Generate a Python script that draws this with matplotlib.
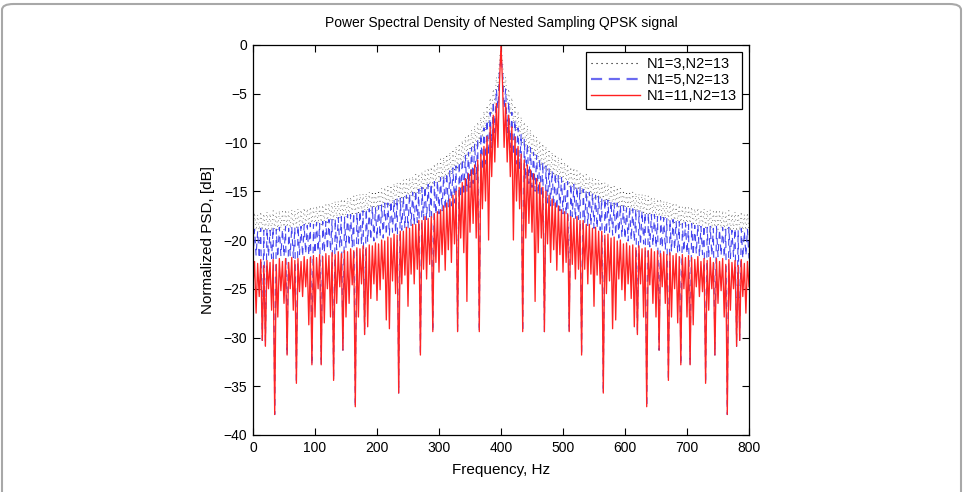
import numpy as np
import matplotlib
matplotlib.use("Agg")
import matplotlib.pyplot as plt
from matplotlib.patches import FancyBboxPatch
from matplotlib.lines import Line2D

plt.rcParams['font.family'] = ['Liberation Sans', 'DejaVu Sans']
plt.rcParams['font.size'] = 10

# ---------------- data ----------------
# frequency grid, 2.5 Hz steps: even samples = troughs, odd samples = crests
freq = np.arange(0, 800.0 + 1e-9, 2.5)

# N1=11,N2=13 (red)
red_dip_left = [
    -24.8, -27.5, -25.8, -30.3, -30.9, -25.0, -27.2, -37.9, -27.9, -25.2,
    -26.5, -31.8, -25.0, -27.2, -34.7, -25.3, -25.8, -24.8, -28.7, -32.8,
    -27.9, -25.0, -32.8, -28.5, -25.0, -27.9, -34.4, -26.5, -24.8, -31.3,
    -27.9, -26.5, -24.6, -37.1, -27.9, -24.5, -29.7, -28.9, -26.0, -24.5,
    -26.2, -25.1, -24.0, -28.2, -29.1, -24.2, -25.5, -35.7, -24.5, -23.6,
    -26.8, -23.5, -24.5, -23.0, -31.8, -23.0, -24.0, -22.5, -29.4, -22.3,
    -23.3, -21.5, -23.1, -21.0, -22.3, -20.4, -29.4, -19.8, -21.3, -26.3,
    -19.2, -18.3, -19.8, -29.4, -16.8, -16.0, -20.0, -13.5, -12.0, -10.5]
red_center = 0.0
red_dip_right = [
    -10.5, -12.0, -13.5, -20.0, -16.0, -16.8, -29.4, -19.8, -18.3, -19.2,
    -26.3, -21.3, -19.8, -29.4, -20.4, -22.3, -21.0, -23.1, -21.5, -23.3,
    -22.3, -29.4, -22.5, -24.0, -23.0, -31.8, -23.0, -24.5, -23.5, -26.8,
    -23.6, -24.5, -35.7, -25.5, -24.2, -29.1, -28.2, -24.0, -25.1, -26.2,
    -24.5, -26.0, -28.9, -29.7, -24.5, -27.9, -37.1, -24.6, -26.5, -27.9,
    -31.3, -24.8, -26.5, -34.4, -27.9, -25.0, -28.5, -32.8, -25.0, -27.9,
    -32.8, -28.7, -24.8, -25.8, -25.3, -34.7, -27.2, -25.0, -31.8, -26.5,
    -25.2, -27.9, -37.9, -27.2, -25.0, -30.9, -30.3, -25.8, -27.5, -24.8]
red_peak_left = [
    -22.2, -22.4, -22.0, -22.6, -22.1, -22.3, -22.0, -22.5, -21.9, -22.2,
    -21.9, -22.3, -21.8, -22.1, -21.9, -22.2, -21.7, -22.0, -21.8, -21.6,
    -21.8, -21.5, -21.7, -21.4, -21.6, -21.3, -21.5, -21.2, -21.4, -21.1,
    -21.2, -20.9, -21.1, -20.8, -20.9, -20.6, -20.8, -20.5, -20.6, -20.3,
    -20.4, -20.0, -20.1, -19.7, -19.8, -19.4, -19.5, -19.1, -19.1, -18.7,
    -18.8, -18.4, -18.4, -18.0, -18.0, -17.6, -17.8, -17.6, -17.3, -17.1,
    -16.9, -16.5, -16.2, -15.8, -15.4, -15.0, -14.6, -14.1, -13.7, -13.2,
    -12.8, -12.3, -11.8, -11.2, -10.4, -9.4, -8.4, -7.2, -6.0, -4.0]
red_peak_right = [
    -4.0, -6.0, -7.2, -8.4, -9.4, -10.4, -11.2, -11.8, -12.3, -12.8,
    -13.2, -13.7, -14.1, -14.6, -15.0, -15.4, -15.8, -16.2, -16.5, -16.9,
    -17.1, -17.3, -17.6, -17.8, -17.6, -18.0, -18.0, -18.4, -18.4, -18.8,
    -18.7, -19.1, -19.1, -19.5, -19.4, -19.8, -19.7, -20.1, -20.0, -20.4,
    -20.3, -20.6, -20.5, -20.8, -20.6, -20.9, -20.8, -21.1, -20.9, -21.2,
    -21.1, -21.4, -21.2, -21.5, -21.3, -21.6, -21.4, -21.7, -21.5, -21.8,
    -21.6, -21.8, -22.0, -21.7, -22.2, -21.9, -22.1, -21.8, -22.3, -21.9,
    -22.2, -21.9, -22.5, -22.0, -22.3, -22.1, -22.6, -22.0, -22.4, -22.2]

# N1=5,N2=13 (blue)
blue_dip_left = [
    -21.9, -21.6, -21.9, -30.3, -30.9, -21.7, -21.9, -37.9, -21.8, -21.6,
    -21.7, -31.8, -21.6, -21.8, -34.7, -21.5, -21.7, -21.4, -21.6, -32.8,
    -21.4, -21.2, -32.8, -21.3, -21.0, -21.2, -34.4, -21.0, -20.8, -31.3,
    -20.8, -20.6, -20.7, -37.1, -20.4, -20.5, -29.7, -20.2, -20.0, -20.1,
    -19.9, -19.7, -19.8, -19.5, -19.5, -19.2, -19.3, -35.7, -19.0, -18.8,
    -18.8, -18.5, -18.5, -18.2, -31.8, -17.9, -17.9, -17.6, -29.4, -17.4,
    -17.3, -17.0, -16.9, -16.6, -16.5, -16.2, -29.4, -15.6, -15.4, -15.0,
    -14.6, -14.2, -13.8, -29.4, -12.8, -12.2, -11.3, -10.5, -9.0, -6.5]
blue_center = -1.3
blue_dip_right = [
    -6.5, -9.0, -10.5, -11.3, -12.2, -12.8, -29.4, -13.8, -14.2, -14.6,
    -15.0, -15.4, -15.6, -29.4, -16.2, -16.5, -16.6, -16.9, -17.0, -17.3,
    -17.4, -29.4, -17.6, -17.9, -17.9, -31.8, -18.2, -18.5, -18.5, -18.8,
    -18.8, -19.0, -35.7, -19.3, -19.2, -19.5, -19.5, -19.8, -19.7, -19.9,
    -20.1, -20.0, -20.2, -29.7, -20.5, -20.4, -37.1, -20.7, -20.6, -20.8,
    -31.3, -20.8, -21.0, -34.4, -21.2, -21.0, -21.3, -32.8, -21.2, -21.4,
    -32.8, -21.6, -21.4, -21.7, -21.5, -34.7, -21.8, -21.6, -31.8, -21.7,
    -21.6, -21.8, -37.9, -21.9, -21.7, -30.9, -30.3, -21.9, -21.6, -21.9]
blue_peak_left = [
    -18.9, -19.1, -18.8, -19.0, -18.8, -19.0, -18.7, -18.9, -18.7, -18.9,
    -18.6, -18.8, -18.6, -18.7, -18.5, -18.6, -18.4, -18.5, -18.3, -18.4,
    -18.2, -18.3, -18.1, -18.1, -17.9, -17.9, -17.8, -17.7, -17.6, -17.6,
    -17.4, -17.4, -17.2, -17.2, -17.0, -17.0, -16.8, -16.8, -16.6, -16.7,
    -16.5, -16.4, -16.2, -16.2, -16.0, -15.9, -15.7, -15.7, -15.5, -15.4,
    -15.2, -15.1, -14.9, -14.8, -14.6, -14.5, -14.3, -14.2, -14.0, -13.9,
    -13.6, -13.4, -13.1, -12.9, -12.6, -12.4, -12.0, -11.7, -11.3, -11.0,
    -10.5, -10.1, -9.6, -9.1, -8.5, -7.7, -6.9, -5.8, -4.5, -2.6]
blue_peak_right = [
    -2.6, -4.5, -5.8, -6.9, -7.7, -8.5, -9.1, -9.6, -10.1, -10.5,
    -11.0, -11.3, -11.7, -12.0, -12.4, -12.6, -12.9, -13.1, -13.4, -13.6,
    -13.9, -14.0, -14.2, -14.3, -14.5, -14.6, -14.8, -14.9, -15.1, -15.2,
    -15.4, -15.5, -15.7, -15.7, -15.9, -16.0, -16.2, -16.2, -16.4, -16.5,
    -16.7, -16.6, -16.8, -16.8, -17.0, -17.0, -17.2, -17.2, -17.4, -17.4,
    -17.6, -17.6, -17.7, -17.8, -17.9, -17.9, -18.1, -18.1, -18.3, -18.2,
    -18.4, -18.3, -18.5, -18.4, -18.6, -18.5, -18.7, -18.6, -18.8, -18.6,
    -18.9, -18.7, -18.9, -18.7, -19.0, -18.8, -19.0, -18.8, -19.1, -18.9]

# N1=3,N2=13 (black dotted)
black_dip_left = [
    -19.2, -19.0, -19.2, -19.0, -19.1, -18.9, -19.1, -18.9, -19.0, -18.8,
    -18.9, -18.7, -18.8, -18.6, -18.7, -18.5, -18.6, -18.4, -18.5, -18.3,
    -18.5, -18.3, -18.4, -18.1, -18.2, -17.9, -18.0, -17.8, -17.8, -17.6,
    -17.7, -17.5, -17.5, -17.3, -17.4, -17.1, -17.2, -17.0, -17.0, -16.8,
    -17.0, -16.7, -16.8, -16.5, -16.6, -16.3, -16.3, -16.0, -16.1, -15.8,
    -15.9, -15.5, -15.6, -15.2, -15.3, -14.9, -14.9, -14.6, -14.6, -14.2,
    -14.2, -13.8, -13.8, -13.4, -13.3, -13.0, -12.8, -12.4, -12.2, -11.7,
    -11.3, -10.9, -10.5, -10.0, -9.5, -8.8, -8.1, -7.2, -6.0, -4.5]
black_center = -0.2
black_dip_right = [
    -4.5, -6.0, -7.2, -8.1, -8.8, -9.5, -10.0, -10.5, -10.9, -11.3,
    -11.7, -12.2, -12.4, -12.8, -13.0, -13.3, -13.4, -13.8, -13.8, -14.2,
    -14.2, -14.6, -14.6, -14.9, -14.9, -15.3, -15.2, -15.6, -15.5, -15.9,
    -15.8, -16.1, -16.0, -16.3, -16.3, -16.6, -16.5, -16.8, -16.7, -17.0,
    -16.8, -17.0, -17.0, -17.2, -17.1, -17.4, -17.3, -17.5, -17.5, -17.7,
    -17.6, -17.8, -17.8, -18.0, -17.9, -18.2, -18.1, -18.4, -18.3, -18.5,
    -18.3, -18.5, -18.4, -18.6, -18.5, -18.7, -18.6, -18.8, -18.7, -18.9,
    -18.8, -19.0, -18.9, -19.1, -18.9, -19.1, -19.0, -19.2, -19.0, -19.2]
black_peak_left = [
    -17.2, -17.4, -17.1, -17.3, -17.1, -17.3, -17.0, -17.2, -17.0, -17.1,
    -16.9, -17.1, -16.9, -17.0, -16.8, -16.9, -16.7, -16.8, -16.6, -16.7,
    -16.5, -16.6, -16.4, -16.4, -16.2, -16.2, -16.0, -16.0, -15.8, -15.8,
    -15.7, -15.6, -15.5, -15.4, -15.3, -15.3, -15.2, -15.1, -15.0, -15.0,
    -14.9, -14.7, -14.6, -14.5, -14.4, -14.2, -14.1, -14.0, -13.8, -13.8,
    -13.6, -13.5, -13.3, -13.2, -13.0, -12.9, -12.6, -12.5, -12.2, -12.0,
    -11.7, -11.5, -11.2, -11.0, -10.7, -10.4, -10.1, -9.8, -9.4, -9.1,
    -8.7, -8.3, -7.9, -7.4, -6.8, -6.2, -5.4, -4.5, -3.3, -1.5]
black_peak_right = [
    -1.5, -3.3, -4.5, -5.4, -6.2, -6.8, -7.4, -7.9, -8.3, -8.7,
    -9.1, -9.4, -9.8, -10.1, -10.4, -10.7, -11.0, -11.2, -11.5, -11.7,
    -12.0, -12.2, -12.5, -12.6, -12.9, -13.0, -13.2, -13.3, -13.5, -13.6,
    -13.8, -13.8, -14.0, -14.1, -14.2, -14.4, -14.5, -14.6, -14.7, -14.9,
    -15.0, -15.0, -15.1, -15.2, -15.3, -15.3, -15.4, -15.5, -15.6, -15.7,
    -15.8, -15.8, -16.0, -16.0, -16.2, -16.2, -16.4, -16.4, -16.6, -16.5,
    -16.7, -16.6, -16.8, -16.7, -16.9, -16.8, -17.0, -16.9, -17.1, -16.9,
    -17.1, -17.0, -17.2, -17.0, -17.3, -17.1, -17.3, -17.1, -17.4, -17.2]

labels = ['N1=3,N2=13', 'N1=5,N2=13', 'N1=11,N2=13']
x_ticks = [0, 100, 200, 300, 400, 500, 600, 700, 800]
y_ticks = [0, -5, -10, -15, -20, -25, -30, -35, -40]


def assemble(dip_left, center, dip_right, peak_left, peak_right):
    dips = np.array(dip_left + [center] + dip_right)
    peaks = np.array(peak_left + peak_right)
    y = np.empty(dips.size + peaks.size)
    y[0::2] = dips
    y[1::2] = peaks
    return y


black = assemble(black_dip_left, black_center, black_dip_right, black_peak_left, black_peak_right)
blue = assemble(blue_dip_left, blue_center, blue_dip_right, blue_peak_left, blue_peak_right)
red = assemble(red_dip_left, red_center, red_dip_right, red_peak_left, red_peak_right)

# ---------------- figure ----------------
W, H = 966, 492
fig = plt.figure(figsize=(W / 100, H / 100), dpi=100)

# light grey rounded frame around the figure
frame = FancyBboxPatch((2 / W, -0.05), (961 - 2) / W, (H - 4) / H + 0.05,
                       boxstyle="round,pad=0,rounding_size=0.012",
                       transform=fig.transFigure, fill=False,
                       edgecolor='#a8a8a8', linewidth=1.5, clip_on=False)
fig.patches.append(frame)

ax = fig.add_axes([253 / W, 1 - 435 / H, (749 - 253) / W, (435 - 45) / H])

black_style = (0, (0.8, 5.0))
blue_style = (0, (6, 5))
ax.plot(freq, black, color='#202020', linewidth=0.55, linestyle=black_style)
ax.plot(freq, blue, color='#4545ee', linewidth=0.8, linestyle=blue_style)
ax.plot(freq, red, color='#ff2424', linewidth=0.95)

ax.set_xlim(0, 800)
ax.set_ylim(-40, 0)
ax.set_xticks(x_ticks)
ax.set_yticks(y_ticks)
ax.tick_params(direction='in', top=True, right=True, length=5, width=0.8,
               labelsize=10, pad=4)
for s in ax.spines.values():
    s.set_linewidth(0.9)

ax.set_title('Power Spectral Density of Nested Sampling QPSK signal',
             fontsize=10, pad=13)
ax.set_xlabel('Frequency, Hz', fontsize=11, labelpad=6)
ax.set_ylabel('Normalized PSD, [dB]', fontsize=11, labelpad=6)

handles = [Line2D([], [], color='black', linewidth=0.8, linestyle=(0, (1, 3.5))),
           Line2D([], [], color='#6a6af0', linewidth=1.6, linestyle=(0, (5, 3))),
           Line2D([], [], color='#ff2020', linewidth=1.0)]
leg = ax.legend(handles, labels, loc='upper right', bbox_to_anchor=(0.986, 0.982),
                borderaxespad=0, fancybox=False, framealpha=1, edgecolor='black',
                handlelength=3.3, handletextpad=0.5, labelspacing=0.15,
                borderpad=0.35, fontsize=10.5)
leg.get_frame().set_linewidth(0.9)

fig.savefig('out.png', dpi=100)
